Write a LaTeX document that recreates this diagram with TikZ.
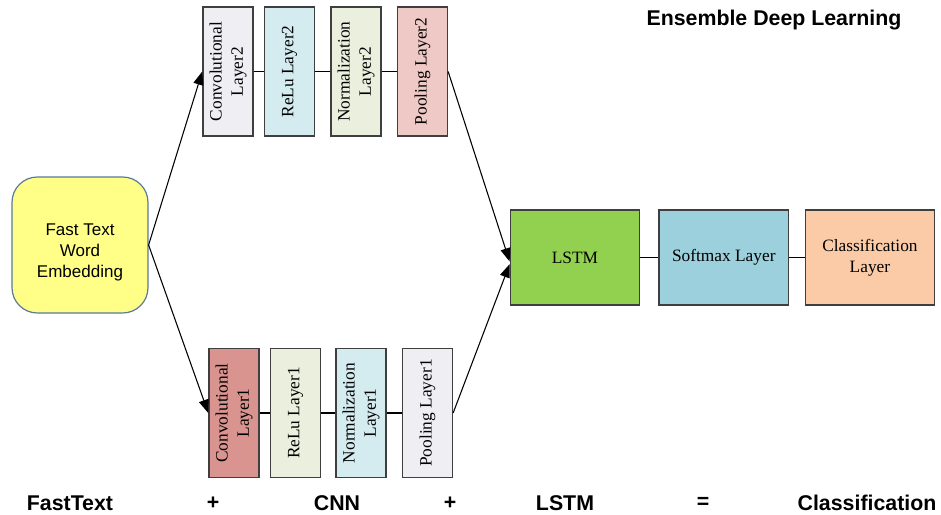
\documentclass[tikz,border=0pt]{standalone}
\usepackage{fontspec}
\setmainfont{Liberation Serif}
\setsansfont{Liberation Sans}
\usepackage{xcolor}
\usetikzlibrary{arrows.meta,positioning}
\definecolor{edgegray}{HTML}{3F3F3F}
\definecolor{ftyellow}{HTML}{FFFF88}
\definecolor{ftedge}{HTML}{5B7A96}
\definecolor{lavender}{HTML}{EFEEF3}
\definecolor{paleblue}{HTML}{D4ECF0}
\definecolor{palegreen}{HTML}{EBF0DE}
\definecolor{palerose}{HTML}{EFC9C6}
\definecolor{rose}{HTML}{D99490}
\definecolor{lstmgreen}{HTML}{92D050}
\definecolor{softblue}{HTML}{9BD0DC}
\definecolor{peach}{HTML}{FACBA6}

\begin{document}
\begin{tikzpicture}[
  x=0.75pt,y=-0.75pt,
  >={Triangle[length=10pt,width=7.5pt]},
  layer/.style={draw=edgegray,line width=1.1pt,minimum width=37.5pt,
                minimum height=96.75pt,inner sep=0pt,font=\fontsize{13}{16}\selectfont},
  stage/.style={draw=edgegray,line width=1.1pt,minimum width=97pt,
                minimum height=71.25pt,align=center,font=\fontsize{13}{16}\selectfont},
  caption/.style={font=\sffamily\bfseries\fontsize{16}{19}\selectfont},
  link/.style={line width=0.9pt,black},
  flow/.style={->,line width=0.8pt,black}
]
\useasboundingbox (0,0) rectangle (941,514);

% embedding input
\node[draw=ftedge,line width=0.9pt,fill=ftyellow,rounded corners=19pt,
      minimum width=102pt,minimum height=102pt] (ft) at (80,245) {};
\node[align=center,font=\sffamily\fontsize{12.75}{15.5}\selectfont]
  (fttext) at ([yshift=-5.5pt]ft.center) {Fast Text\\Word\\Embedding};

% upper CNN branch
\node[layer,fill=lavender] (conv2) at (228,71.5)
  {\rotatebox{90}{\begin{tabular}{@{}c@{}}Convolutional\\Layer2\end{tabular}}};
\node[layer,fill=paleblue,right=7.5pt of conv2] (relu2)
  {\rotatebox{90}{ReLu Layer2}};
\node[layer,fill=palegreen,right=11.25pt of relu2] (norm2)
  {\rotatebox{90}{\begin{tabular}{@{}c@{}}Normalization\\Layer2\end{tabular}}};
\node[layer,fill=palerose,right=11.25pt of norm2] (pool2)
  {\rotatebox{90}{Pooling Layer2}};

% lower CNN branch
\node[layer,fill=rose] (conv1) at (234,413)
  {\rotatebox{90}{\begin{tabular}{@{}c@{}}Convolutional\\Layer1\end{tabular}}};
\node[layer,fill=palegreen,right=7.5pt of conv1] (relu1)
  {\rotatebox{90}{ReLu Layer1}};
\node[layer,fill=paleblue,right=10.5pt of relu1] (norm1)
  {\rotatebox{90}{\begin{tabular}{@{}c@{}}Normalization\\Layer1\end{tabular}}};
\node[layer,fill=lavender,right=11.25pt of norm1] (pool1)
  {\rotatebox{90}{Pooling Layer1}};

% LSTM head
\node[stage,fill=lstmgreen] (lstm) at (575,257.5) {LSTM};
\node[stage,fill=softblue,right=13.5pt of lstm] (soft) {Softmax Layer};
\node[stage,fill=peach,right=11.5pt of soft] (cls) {Classification\\Layer};

\draw[link] (conv2) -- (relu2) (relu2) -- (norm2) (norm2) -- (pool2);
\draw[link] (conv1) -- (relu1) (relu1) -- (norm1) (norm1) -- (pool1);
\draw[link] (lstm) -- (soft) (soft) -- (cls);

\draw[flow] (ft.east) -- (conv2.west);
\draw[flow] (ft.east) -- (conv1.west);
\draw[flow] (pool2.east) -- ([yshift=-3pt]lstm.west);
\draw[flow] (pool1.east) -- ([yshift=-5pt]lstm.west);

% titles
\node[caption] (title) at (774,20) {Ensemble Deep Learning};
\node[caption] (capft) at (70,503) {FastText};
\node[caption] (plusa) at (213,503) {+};
\node[caption] (capcnn) at (337,503) {CNN};
\node[caption] (plusb) at (450,503) {+};
\node[caption] (caplstm) at (565,503) {LSTM};
\node[caption] (equals) at (703,503) {=};
\node[caption] (capcls) at (867,503) {Classification};
\end{tikzpicture}
\end{document}
